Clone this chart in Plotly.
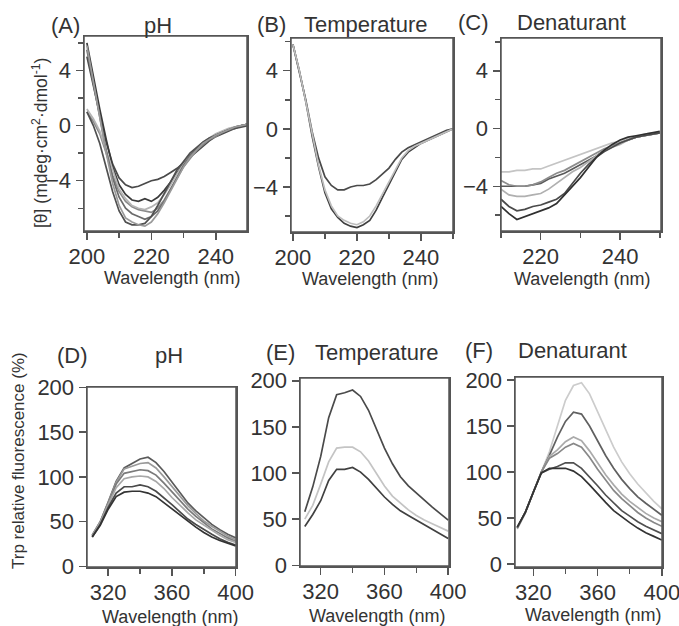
import plotly.graph_objects as go

W, H = 679, 626

# ---------------- data ----------------
wl_cd = list(range(200, 251, 2))
wl_cd_c = list(range(210, 251, 2))
wl_fl = list(range(310, 401, 5))

cd_ph = [
    [5.0, 2.8, 0.8, -1.2, -2.8, -3.8, -4.3, -4.5, -4.4, -4.2, -4.0, -3.9, -3.7, -3.4, -3.1, -2.7, -2.3, -1.9, -1.5, -1.1, -0.8, -0.6, -0.4, -0.2, 0.0, 0.1],
    [6.0, 3.5, 1.2, -1.0, -3.0, -4.3, -5.0, -5.4, -5.5, -5.3, -5.5, -5.2, -4.7, -4.1, -3.4, -2.8, -2.2, -1.7, -1.3, -1.0, -0.7, -0.5, -0.3, -0.1, 0.0, 0.1],
    [1.0, 0.3, -0.6, -2.0, -3.6, -4.8, -5.5, -5.9, -6.1, -6.2, -6.3, -6.0, -5.4, -4.6, -3.8, -3.0, -2.4, -1.8, -1.4, -1.0, -0.8, -0.5, -0.3, -0.2, 0.0, 0.1],
    [1.2, 0.5, -0.4, -1.8, -3.3, -4.6, -5.3, -5.8, -6.0, -6.1, -5.9, -5.6, -5.0, -4.3, -3.5, -2.8, -2.2, -1.7, -1.2, -0.9, -0.6, -0.4, -0.2, -0.1, 0.0, 0.0],
    [5.5, 3.0, 0.6, -1.8, -3.8, -5.2, -6.0, -6.4, -6.6, -6.8, -6.6, -6.2, -5.5, -4.6, -3.7, -2.9, -2.2, -1.7, -1.3, -1.0, -0.7, -0.5, -0.3, -0.1, 0.0, 0.1],
    [1.0, 0.0, -1.3, -3.0, -4.8, -6.2, -7.0, -7.2, -7.2, -7.1, -6.6, -5.8, -4.9, -4.0, -3.2, -2.6, -2.0, -1.6, -1.2, -0.9, -0.7, -0.5, -0.3, -0.2, -0.1, 0.0],
    [5.8, 3.2, 0.6, -2.0, -4.2, -5.8, -6.7, -7.0, -7.2, -7.3, -7.0, -6.4, -5.6, -4.7, -3.8, -3.0, -2.3, -1.8, -1.3, -1.0, -0.7, -0.5, -0.3, -0.1, 0.0, 0.1],
]
cd_ph_colors = ["#4a4a4a", "#3a3a3a", "#8a8a8a", "#b5b5b5", "#6a6a6a", "#505050", "#9a9a9a"]

cd_temp = [
    [5.8, 4.0, 2.0, -0.2, -2.0, -3.3, -3.9, -4.2, -4.2, -4.0, -3.9, -3.9, -3.8, -3.5, -3.1, -2.7, -2.1, -1.6, -1.3, -1.1, -0.9, -0.7, -0.5, -0.3, -0.1, 0.0],
    [5.8, 4.0, 1.9, -0.5, -2.6, -4.4, -5.5, -6.1, -6.5, -6.7, -6.8, -6.6, -6.3, -5.6, -4.7, -3.8, -2.9, -2.1, -1.6, -1.3, -1.0, -0.8, -0.6, -0.4, -0.2, 0.0],
    [5.8, 4.0, 1.9, -0.4, -2.5, -4.2, -5.3, -6.0, -6.3, -6.5, -6.6, -6.4, -6.0, -5.3, -4.5, -3.6, -2.8, -2.0, -1.5, -1.2, -1.0, -0.8, -0.6, -0.4, -0.2, 0.0],
]
cd_temp_colors = ["#4a4a4a", "#404040", "#bdbdbd"]

cd_den = [
    [-3.0, -3.0, -2.9, -2.9, -2.8, -2.8, -2.6, -2.4, -2.2, -2.0, -1.8, -1.6, -1.4, -1.2, -1.0, -0.9, -0.7, -0.6, -0.4, -0.3, -0.3],
    [-4.0, -4.0, -4.0, -4.0, -3.9, -3.8, -3.5, -3.3, -3.1, -2.8, -2.5, -2.2, -1.9, -1.5, -1.2, -1.0, -0.8, -0.6, -0.5, -0.4, -0.3],
    [-3.6, -3.9, -4.0, -4.0, -3.9, -3.7, -3.4, -3.1, -2.9, -2.6, -2.3, -2.0, -1.7, -1.4, -1.2, -1.0, -0.8, -0.6, -0.5, -0.4, -0.3],
    [-4.2, -4.6, -4.7, -4.7, -4.6, -4.5, -4.2, -3.8, -3.4, -3.0, -2.7, -2.3, -1.9, -1.6, -1.3, -1.1, -0.8, -0.6, -0.5, -0.4, -0.3],
    [-4.9, -5.4, -5.7, -5.6, -5.4, -5.3, -5.1, -4.9, -4.5, -3.8, -3.1, -2.5, -2.0, -1.6, -1.3, -1.0, -0.8, -0.6, -0.5, -0.4, -0.3],
    [-5.4, -5.9, -6.3, -6.1, -5.9, -5.7, -5.5, -5.2, -4.6, -4.0, -3.4, -2.7, -2.0, -1.5, -1.1, -0.8, -0.6, -0.5, -0.4, -0.3, -0.2],
]
cd_den_colors = ["#c4c4c4", "#5a5a5a", "#8c8c8c", "#b0b0b0", "#4a4a4a", "#303030"]

fl_ph = [
    [35, 50, 72, 95, 110, 115, 120, 122, 116, 106, 94, 82, 71, 62, 54, 47, 41, 36, 32],
    [35, 50, 71, 94, 109, 112, 115, 116, 110, 100, 89, 78, 68, 59, 51, 45, 39, 34, 30],
    [34, 49, 70, 92, 104, 106, 108, 107, 102, 93, 83, 73, 64, 56, 49, 42, 37, 32, 28],
    [34, 49, 69, 88, 98, 100, 101, 100, 95, 87, 77, 68, 60, 52, 46, 40, 35, 30, 27],
    [33, 47, 66, 82, 89, 89, 91, 89, 84, 77, 69, 61, 53, 47, 41, 36, 31, 27, 24],
    [33, 46, 64, 78, 83, 84, 84, 82, 78, 71, 64, 57, 50, 44, 38, 33, 29, 26, 23],
]
fl_ph_colors = ["#5a5a5a", "#9a9a9a", "#7a7a7a", "#a8a8a8", "#4a4a4a", "#333333"]

fl_temp = [
    [58, 85, 118, 160, 185, 187, 190, 183, 168, 148, 127, 110, 96, 86, 78, 70, 63, 56, 49],
    [50, 65, 88, 112, 127, 128, 128, 123, 113, 100, 86, 75, 67, 60, 54, 49, 45, 41, 37],
    [42, 55, 70, 92, 104, 104, 106, 101, 93, 83, 74, 66, 59, 54, 49, 44, 39, 34, 29],
]
fl_temp_colors = ["#4a4a4a", "#c4c4c4", "#404040"]

fl_den = [
    [38, 55, 78, 100, 122, 150, 178, 194, 197, 185, 165, 145, 127, 111, 98, 87, 77, 68, 60],
    [39, 56, 78, 100, 118, 138, 155, 165, 163, 150, 134, 118, 104, 92, 82, 73, 66, 59, 53],
    [39, 56, 78, 100, 117, 124, 133, 138, 134, 123, 110, 97, 86, 76, 68, 61, 55, 50, 46],
    [39, 56, 78, 100, 115, 120, 127, 131, 127, 116, 103, 91, 80, 71, 63, 56, 50, 45, 41],
    [40, 56, 78, 99, 103, 106, 110, 110, 104, 95, 85, 75, 66, 58, 52, 46, 41, 37, 33],
    [40, 56, 78, 99, 104, 104, 104, 101, 95, 86, 76, 67, 58, 51, 45, 39, 34, 30, 26],
]
fl_den_colors = ["#cccccc", "#606060", "#aaaaaa", "#888888", "#505050", "#333333"]

letters = ["(A)", "(B)", "(C)", "(D)", "(E)", "(F)"]
titles = ["pH", "Temperature", "Denaturant", "pH", "Temperature", "Denaturant"]
xlabel = "Wavelength (nm)"
ylabel_cd = "[θ] (mdeg·cm<sup>2</sup>·dmol<sup>-1</sup>)"
ylabel_fl = "Trp relative fluorescence (%)"

# ---------------- layout helpers ----------------
FONT = "Liberation Sans, Arial, sans-serif"
TXT = "#333333"
AX = "#555555"

# panel boxes in pixels: (left, right, top, bottom)
boxes = [
    (84, 247, 36, 231),
    (291, 453, 38, 232),
    (501, 661, 38, 231),
    (87, 236, 387, 567),
    (300, 449, 378, 566),
    (515, 662, 377, 567),
]
xranges = [[199.1, 249.7], [199.4, 250], [210, 250.3], [306.7, 400.2], [307, 400.5], [308.6, 400.1]]
yranges = [[-7.65, 6.5], [-7.1, 6.25], [-7.1, 6.27], [-0.5, 200.3], [-0.8, 203], [-3.3, 203.3]]

fig = go.Figure()

panels = [
    (wl_cd, cd_ph, cd_ph_colors),
    (wl_cd, cd_temp, cd_temp_colors),
    (wl_cd_c, cd_den, cd_den_colors),
    (wl_fl, fl_ph, fl_ph_colors),
    (wl_fl, fl_temp, fl_temp_colors),
    (wl_fl, fl_den, fl_den_colors),
]

for i, (xs, series, colors) in enumerate(panels):
    ax = "" if i == 0 else str(i + 1)
    for ys, c in zip(series, colors):
        fig.add_trace(go.Scatter(x=xs, y=ys, mode="lines", line=dict(color=c, width=1.7),
                                 xaxis="x" + ax, yaxis="y" + ax, showlegend=False, hoverinfo="skip"))

common = dict(showline=True, mirror=True, linecolor=AX, linewidth=1.5, ticks="outside",
              ticklen=7, tickwidth=1.5, tickcolor=AX, showgrid=False, zeroline=False,
              automargin=False, ticklabeloverflow="allow",
              tickfont=dict(family=FONT, size=22, color=TXT))

layout = dict(width=W, height=H, autosize=False, margin=dict(l=0, r=0, t=0, b=0, pad=0, autoexpand=False),
              paper_bgcolor="white", plot_bgcolor="white", showlegend=False, hovermode=False)

for i, (l, r, t, b) in enumerate(boxes):
    ax = "" if i == 0 else str(i + 1)
    cd = i < 3
    xa = dict(common, domain=[l / W, r / W], range=xranges[i], anchor="y" + ax,
              tickmode="linear", tick0=200 if cd else 320, dtick=20 if cd else 40,
              ticklabelstandoff=-2,
              minor=dict(ticks="outside", ticklen=5, tickwidth=1.5, tickcolor=AX,
                         dtick=10 if cd else 20, tick0=200 if cd else 320, showgrid=False))
    ya = dict(common, domain=[1 - b / H, 1 - t / H], range=yranges[i], anchor="x" + ax,
              tickmode="linear", tick0=0, dtick=4 if cd else 50)
    if cd:
        ya["minor"] = dict(ticks="outside", ticklen=5, tickwidth=1.5, tickcolor=AX,
                           dtick=2, tick0=0, showgrid=False)
    layout["xaxis" + ax] = xa
    layout["yaxis" + ax] = ya

fig.update_layout(**layout)

# box outlines (top/right edges)
for i in range(6):
    ax = "" if i == 0 else str(i + 1)
    fig.add_shape(type="rect", xref="x" + ax + " domain", yref="y" + ax + " domain",
                  x0=0, x1=1, y0=0, y1=1, line=dict(color=AX, width=1.5), layer="above")

def ann(text, x, y, size, rot=0):
    fig.add_annotation(text=text, x=x / W, y=1 - y / H, xref="paper", yref="paper",
                       showarrow=False, textangle=rot, xanchor="center", yanchor="middle",
                       font=dict(family=FONT, size=size, color=TXT))

letter_pos = [(65, 25), (271, 24), (473, 22), (72, 356), (280, 352), (479, 350)]
title_pos = [(158, 25), (366, 24), (571, 22), (169, 356), (377, 352), (572, 350)]
xlab_pos = [(172, 278), (370, 279), (582, 279), (170, 617), (377, 616), (593, 615)]

for i in range(6):
    ann(letters[i], *letter_pos[i], 22)
    ann(titles[i], *title_pos[i], 22)
    ann(xlabel, *xlab_pos[i], 18)

ann(ylabel_cd, 40, 143, 17.5, -90)
ann(ylabel_fl, 18, 461, 17, -90)

fig.write_html("out.html", config={"displayModeBar": False, "staticPlot": True},
               post_script="document.body.style.margin='0px';document.body.style.overflow='hidden';")
